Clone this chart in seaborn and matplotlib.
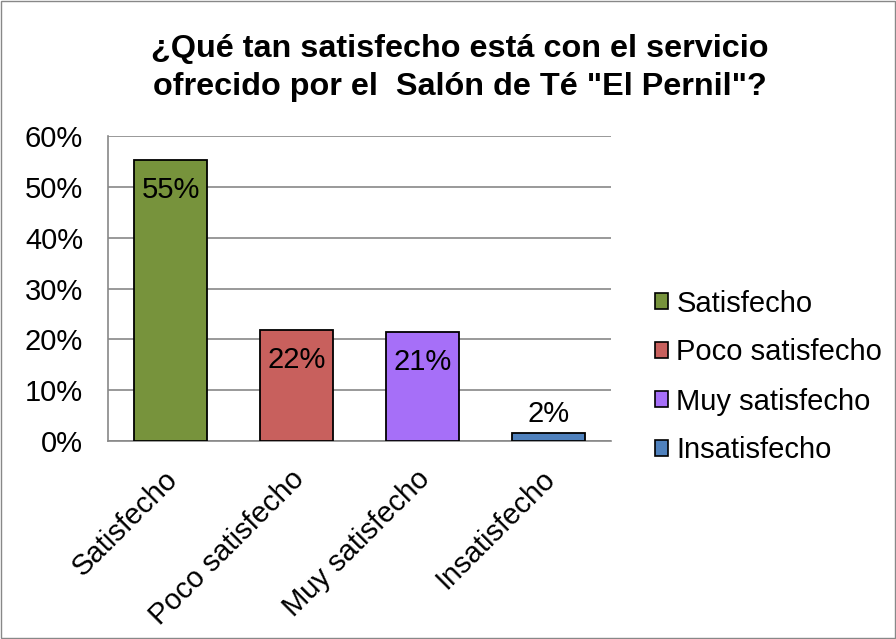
import matplotlib
matplotlib.use("Agg")
import matplotlib.pyplot as plt
import matplotlib.transforms as mtransforms
import seaborn as sns
import pandas as pd
from matplotlib.patches import Patch

categories = ["Satisfecho", "Poco satisfecho", "Muy satisfecho", "Insatisfecho"]
values = [55.3, 21.9, 21.4, 1.6]
labels = ["55%", "22%", "21%", "2%"]
colors = ["#77933C", "#C8605D", "#A66FF8", "#4F81BD"]
yticks = [0, 10, 20, 30, 40, 50, 60]
ytick_labels = ["0%", "10%", "20%", "30%", "40%", "50%", "60%"]
title = '¿Qué tan satisfecho está con el servicio\nofrecido por el  Salón de Té "El Pernil"?'

sns.set_theme(style="white")
plt.rcParams["font.family"] = ["Liberation Sans", "DejaVu Sans"]
plt.rcParams["text.color"] = "black"

df = pd.DataFrame({"cat": categories, "val": values})

fig = plt.figure(figsize=(8.96, 6.39), dpi=100)
ax = fig.add_axes([108/896, 1 - 441/639, (611-108)/896, (441-136)/639])

sns.barplot(data=df, x="cat", y="val", hue="cat", palette=colors, ax=ax,
            width=0.58, edgecolor="black", linewidth=1.3, legend=False,
            saturation=1, zorder=3)

FS = 21
ax.set_ylim(0, 60)
ax.set_yticks(yticks)
ax.set_yticklabels(ytick_labels, fontsize=FS, color="black")
ax.yaxis.grid(True, color="#888888", linewidth=1.2, zorder=0)
ax.set_axisbelow(True)
ax.set_xlabel("")
ax.set_ylabel("")
for s in ["top", "right"]:
    ax.spines[s].set_visible(False)
for s in ["left", "bottom"]:
    ax.spines[s].set_color("#888888")
    ax.spines[s].set_linewidth(1.2)
ax.tick_params(axis="y", length=0, pad=18)
ax.tick_params(axis="x", length=0, pad=10)
ax.set_xticks(range(len(categories)))
ax.set_xticklabels(categories, fontsize=FS, rotation=45, ha="right",
                   va="top", rotation_mode="anchor", color="black")
offset = mtransforms.ScaledTranslation(-7/100, -10/100, fig.dpi_scale_trans)
for lbl in ax.get_xticklabels():
    lbl.set_transform(lbl.get_transform() + offset)

for i, (v, lab) in enumerate(zip(values, labels)):
    if v > 10:
        ax.text(i, v - 5.9, lab, ha="center", va="center", fontsize=FS, color="black", zorder=4)
    else:
        ax.text(i, v + 3.7, lab, ha="center", va="center", fontsize=FS, color="black", zorder=4)

handles = [Patch(facecolor=c, edgecolor="black", linewidth=1.2) for c in colors]
fig.legend(handles, categories, loc="center left", bbox_to_anchor=(640/896, 1 - 377/639),
           frameon=False, fontsize=FS, handlelength=0.45, handleheight=0.45,
           handletextpad=0.3, labelspacing=0.72, borderpad=0)

fig.suptitle(title, x=460/896, y=1 - 34/639, va="top", fontsize=23.3, fontweight="bold",
             linespacing=1.35)

fig.patches.append(plt.Rectangle((0.001, 0.001), 0.998, 0.998, transform=fig.transFigure,
                                 fill=False, edgecolor="#888888", linewidth=1.0))

fig.savefig("out.png", dpi=100, facecolor="white")
